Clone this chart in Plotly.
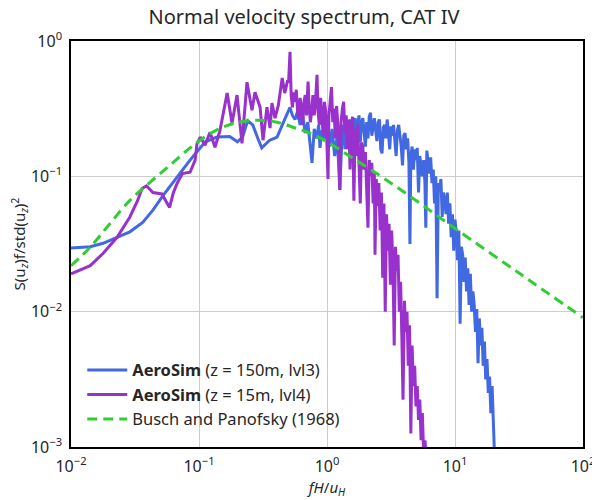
import numpy as np
import plotly.graph_objects as go

# ---- data (log10 values) ----
green_logf = [-2.0, -1.852, -1.695, -1.54, -1.383, -1.227, -1.07, -0.914, -0.781, -0.656,
              -0.523, -0.39, -0.266, -0.133, 0.0, 0.203, 0.469, 0.727, 1.0, 1.5, 2.0]
green_logS = [-1.66, -1.526, -1.348, -1.178, -1.044, -0.919, -0.79, -0.685, -0.625, -0.595,
              -0.585, -0.60, -0.637, -0.681, -0.745, -0.867, -1.03, -1.2, -1.385, -1.715, -2.044]

blue_logf = [-2.0, -1.85, -1.75, -1.64, -1.54, -1.44, -1.36, -1.28, -1.17, -1.07, -1.0, -0.95,
             -0.86, -0.76, -0.70, -0.66, -0.62, -0.58, -0.54, -0.51, -0.45, -0.39, -0.34,
             -0.289, -0.27, -0.25, -0.23, -0.21, -0.19, -0.17, -0.15, -0.135, -0.117, -0.10,
             -0.08, -0.065, -0.055, -0.04, -0.02, 0.0, 0.02, 0.04, 0.06, 0.08, 0.10, 0.115,
             0.13,
             0.14, 0.15, 0.16, 0.17, 0.18, 0.19, 0.20, 0.21, 0.22, 0.23, 0.24, 0.25, 0.26,
             0.27, 0.28, 0.29, 0.30, 0.31, 0.32, 0.33, 0.34, 0.35, 0.36, 0.37, 0.38, 0.39,
             0.40, 0.41, 0.42, 0.43, 0.44, 0.45, 0.46, 0.47, 0.48, 0.49, 0.50, 0.51, 0.52,
             0.53, 0.54, 0.55, 0.56, 0.57, 0.58, 0.59, 0.60, 0.61, 0.62, 0.63, 0.64, 0.648,
             0.655, 0.665, 0.675, 0.685, 0.695, 0.705, 0.715, 0.725, 0.735, 0.745, 0.755,
             0.765, 0.772, 0.78, 0.79, 0.80, 0.81, 0.82, 0.83, 0.84, 0.85, 0.86, 0.87, 0.88,
             0.89, 0.90, 0.91, 0.92, 0.93, 0.94, 0.95, 0.96, 0.97, 0.98, 0.99, 1.00, 1.01,
             1.02, 1.03, 1.04, 1.05, 1.06, 1.07, 1.08, 1.09, 1.10, 1.11, 1.12, 1.13, 1.14,
             1.15, 1.16, 1.17, 1.18, 1.19, 1.20, 1.21, 1.22, 1.23, 1.24, 1.25, 1.26, 1.27,
             1.28, 1.29, 1.30, 1.31]
blue_logS = [-1.53, -1.52, -1.495, -1.45, -1.41, -1.34, -1.25, -1.14, -1.0, -0.88, -0.80, -0.745,
             -0.71, -0.705, -0.745, -0.71, -0.59, -0.62, -0.72, -0.79, -0.735, -0.71, -0.60,
             -0.49, -0.55, -0.58, -0.52, -0.62, -0.55, -0.68, -0.60, -0.75, -0.90, -0.65,
             -0.72, -0.62, -0.79, -0.66, -0.72, -0.60, -0.78, -0.65, -0.85, -0.70, -1.10, -0.75,
             -0.62,
             -0.80, -0.62, -0.60, -0.74, -0.58, -0.66, -0.82, -0.60, -0.57, -0.70, -0.62, -0.55, -0.75,
             -0.60, -0.57, -0.68, -0.78, -0.60, -0.72, -0.56, -0.53, -0.70, -0.62, -0.57, -0.66, -0.74,
             -0.60, -0.58, -0.80, -0.83, -0.64, -0.62, -0.72, -0.58, -0.68, -0.80, -0.63, -0.70, -0.62,
             -0.74, -0.85, -0.66, -0.62, -0.70, -0.78, -0.92, -0.70, -0.68, -0.80, -0.72, -0.90, -1.50,
             -0.85, -0.78, -0.95, -0.80, -0.88, -0.79, -1.12, -0.85, -0.95, -1.00, -0.88,
             -1.05, -1.38, -0.81, -0.90, -0.98, -0.86, -1.05, -0.95, -1.20, -1.00, -1.90, -1.05, -1.10,
             -1.02, -1.30, -1.12, -1.18, -1.28, -1.12, -1.35, -1.20, -1.45, -1.28, -1.55, -1.32, -1.42,
             -1.62, -1.40, -2.09, -1.52, -1.58, -1.78, -1.60, -1.85, -1.68, -1.95, -1.72, -2.00, -1.85,
             -1.95, -2.15, -1.98, -2.38, -2.05, -2.25, -2.12, -2.40, -2.22, -2.50, -2.35, -2.60, -2.48,
             -2.75, -2.55, -2.98, -3.1]

purple_logf = [-2.0, -1.93, -1.85, -1.75, -1.64, -1.54, -1.48, -1.445, -1.41, -1.36, -1.29,
               -1.26, -1.23, -1.20, -1.17, -1.13, -1.07, -1.03, -1.016, -0.99, -0.953, -0.914,
               -0.875, -0.836, -0.78, -0.742, -0.703, -0.664, -0.625, -0.586, -0.5625, -0.523,
               -0.50, -0.469, -0.445, -0.43, -0.406, -0.38, -0.35, -0.33, -0.31,
               -0.30, -0.289, -0.28, -0.27, -0.26, -0.25, -0.24, -0.23, -0.22, -0.21, -0.20,
               -0.19, -0.18, -0.17, -0.16, -0.148, -0.14, -0.13, -0.12, -0.11, -0.10, -0.09,
               -0.078, -0.07, -0.06, -0.05, -0.04, -0.03, -0.02, -0.01, 0.00, 0.008, 0.015,
               0.025, 0.035, 0.045, 0.055, 0.065, 0.075, 0.085, 0.095, 0.10, 0.11, 0.12, 0.13,
               0.14, 0.15, 0.16, 0.17, 0.18, 0.19, 0.20, 0.21, 0.22, 0.23, 0.24, 0.25, 0.26,
               0.27, 0.28, 0.29, 0.30, 0.31, 0.32, 0.33, 0.34, 0.35, 0.36, 0.37, 0.375, 0.385,
               0.395, 0.405, 0.415, 0.425, 0.435, 0.445, 0.455, 0.465, 0.475, 0.485, 0.495,
               0.505, 0.515, 0.525, 0.535, 0.545, 0.555, 0.565, 0.575, 0.585, 0.594, 0.605,
               0.615, 0.625, 0.635, 0.645, 0.655, 0.665, 0.675, 0.685, 0.695, 0.705, 0.715,
               0.725, 0.735, 0.745, 0.755, 0.766, 0.78]
purple_logS = [-1.72, -1.69, -1.66, -1.57, -1.45, -1.30, -1.18, -1.09, -1.07, -1.12, -1.13,
               -1.18, -1.23, -1.12, -1.05, -0.98, -0.97, -0.88, -0.76, -0.71, -0.77, -0.674,
               -0.785, -0.66, -0.385, -0.607, -0.40, -0.756, -0.304, -0.511, -0.378, -0.489,
               -0.733, -0.489, -0.644, -0.459, -0.57, -0.474, -0.274, -0.385, -0.30,
               -0.30, -0.08, -0.40, -0.49, -0.38, -0.45, -0.36, -0.52, -0.58, -0.42, -0.50,
               -0.62, -0.45, -0.40, -0.55, -0.30, -0.48, -0.60, -0.52, -0.40, -0.55, -0.45,
               -0.25, -0.52, -0.62, -0.42, -0.55, -0.70, -0.45, -0.52, -0.78, -1.02, -0.55,
               -0.45, -0.34, -0.60, -0.50, -0.72, -0.48, -0.62, -0.85, -1.10, -0.60, -0.50, -0.45,
               -0.68, -0.55, -0.80, -0.58, -0.95, -0.62, -0.56, -1.18, -0.65, -0.85, -0.62, -0.92, -1.20,
               -0.75, -0.78, -0.95, -0.82, -1.10, -1.38, -0.88, -1.00, -0.90, -1.20, -0.98, -1.58, -1.02,
               -1.22, -1.05, -1.40, -1.12, -1.75, -1.20, -2.00, -1.28, -1.55, -1.35, -1.80,
               -1.40, -1.65, -2.25, -1.52, -1.70, -1.58, -2.00, -1.78, -2.20, -2.65, -1.92,
               -2.15, -2.00, -2.40, -2.10, -2.90, -2.25, -2.55, -2.40, -2.70, -2.55, -2.80,
               -2.65, -2.95, -2.75, -3.05, -2.95, -3.2]

x_tickvals = [0.01, 0.1, 1, 10, 100]
x_ticktext = ["10<sup>−2</sup>", "10<sup>−1</sup>", "10<sup>0</sup>", "10<sup>1</sup>", "10<sup>2</sup>"]
y_tickvals = [0.001, 0.01, 0.1, 1]
y_ticktext = ["10<sup>−3</sup>", "10<sup>−2</sup>", "10<sup>−1</sup>", "10<sup>0</sup>"]

FONT = "Noto Sans"

fig = go.Figure()
fig.add_trace(go.Scatter(
    x=10 ** np.array(blue_logf), y=10 ** np.array(blue_logS), mode="lines",
    line=dict(color="#4169E1", width=3),
    name="<b>AeroSim</b> (z = 150m, lvl3)"))
fig.add_trace(go.Scatter(
    x=10 ** np.array(purple_logf), y=10 ** np.array(purple_logS), mode="lines",
    line=dict(color="#9932CC", width=3),
    name="<b>AeroSim</b> (z = 15m, lvl4)"))
fig.add_trace(go.Scatter(
    x=10 ** np.array(green_logf), y=10 ** np.array(green_logS), mode="lines",
    line=dict(color="#32CD32", width=3, dash="10px,6px", shape="spline"),
    name="Busch and Panofsky (1968)"))

# the page body adds an 8px offset; the figure is sized so the plot area lands where the reference has it
fig.update_layout(
    width=592, height=492,
    margin=dict(l=63, r=17, t=33, b=53, autoexpand=False),
    paper_bgcolor="white", plot_bgcolor="white",
    font=dict(family=FONT, color="#262626", size=15),
    title=dict(text="Normal velocity spectrum, CAT IV", x=0.5, xanchor="center",
               y=0.981, yanchor="middle", font=dict(size=20, family=FONT, color="#262626")),
    showlegend=True,
    legend=dict(x=0.022, y=0.232, xanchor="left", yanchor="top", bgcolor="rgba(255,255,255,0)",
                font=dict(size=16.5, family=FONT, color="#262626"),
                itemwidth=40),
)
fig.update_xaxes(
    type="log", range=[-2, 2], tickvals=x_tickvals, ticktext=x_ticktext, automargin=False,
    showgrid=True, gridcolor="#cccccc", gridwidth=1, zeroline=False,
    showline=True, linecolor="black", linewidth=1.5, mirror=True, ticks="",
    tickfont=dict(size=16), ticklabelstandoff=4,
    title=dict(text="<i>fH</i>/<i>u<sub>H</sub></i>", font=dict(size=15), standoff=2))
fig.update_yaxes(
    type="log", range=[-3, 0], tickvals=y_tickvals, ticktext=y_ticktext, automargin=False,
    showgrid=True, gridcolor="#cccccc", gridwidth=1, zeroline=False,
    showline=True, linecolor="black", linewidth=1.5, mirror=True, ticks="",
    tickfont=dict(size=16), ticklabelstandoff=4,
    title=dict(text="S(u<sub><i>z</i></sub>)f/std(u<sub><i>z</i></sub>)<sup>2</sup>",
               font=dict(size=15), standoff=4))

fig.write_html("out.html")
